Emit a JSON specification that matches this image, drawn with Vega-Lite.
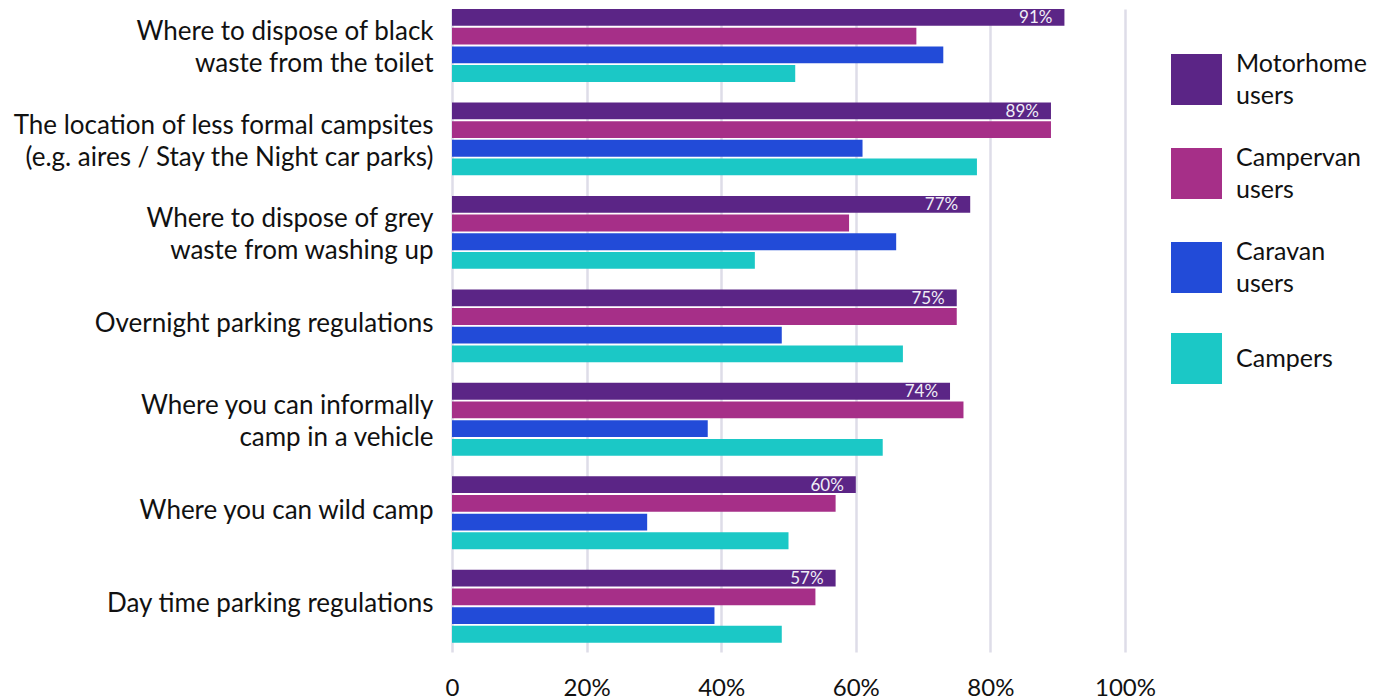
{
  "$schema": "https://vega.github.io/schema/vega-lite/v6.json",
  "width": 673,
  "height": 643,
  "autosize": "none",
  "padding": {"left": 452, "top": 9, "right": 266, "bottom": 47},
  "background": "white",
  "config": {
    "font": "Lato",
    "view": {"stroke": null}
  },
  "data": {
    "values": [
      {"q": "Where to dispose of black|waste from the toilet", "g": "Motorhome users", "v": 91},
      {"q": "Where to dispose of black|waste from the toilet", "g": "Campervan users", "v": 69},
      {"q": "Where to dispose of black|waste from the toilet", "g": "Caravan users", "v": 73},
      {"q": "Where to dispose of black|waste from the toilet", "g": "Campers", "v": 51},
      {"q": "The location of less formal campsites|(e.g. aires / Stay the Night car parks)", "g": "Motorhome users", "v": 89},
      {"q": "The location of less formal campsites|(e.g. aires / Stay the Night car parks)", "g": "Campervan users", "v": 89},
      {"q": "The location of less formal campsites|(e.g. aires / Stay the Night car parks)", "g": "Caravan users", "v": 61},
      {"q": "The location of less formal campsites|(e.g. aires / Stay the Night car parks)", "g": "Campers", "v": 78},
      {"q": "Where to dispose of grey|waste from washing up", "g": "Motorhome users", "v": 77},
      {"q": "Where to dispose of grey|waste from washing up", "g": "Campervan users", "v": 59},
      {"q": "Where to dispose of grey|waste from washing up", "g": "Caravan users", "v": 66},
      {"q": "Where to dispose of grey|waste from washing up", "g": "Campers", "v": 45},
      {"q": "Overnight parking regulations", "g": "Motorhome users", "v": 75},
      {"q": "Overnight parking regulations", "g": "Campervan users", "v": 75},
      {"q": "Overnight parking regulations", "g": "Caravan users", "v": 49},
      {"q": "Overnight parking regulations", "g": "Campers", "v": 67},
      {"q": "Where you can informally|camp in a vehicle", "g": "Motorhome users", "v": 74},
      {"q": "Where you can informally|camp in a vehicle", "g": "Campervan users", "v": 76},
      {"q": "Where you can informally|camp in a vehicle", "g": "Caravan users", "v": 38},
      {"q": "Where you can informally|camp in a vehicle", "g": "Campers", "v": 64},
      {"q": "Where you can wild camp", "g": "Motorhome users", "v": 60},
      {"q": "Where you can wild camp", "g": "Campervan users", "v": 57},
      {"q": "Where you can wild camp", "g": "Caravan users", "v": 29},
      {"q": "Where you can wild camp", "g": "Campers", "v": 50},
      {"q": "Day time parking regulations", "g": "Motorhome users", "v": 57},
      {"q": "Day time parking regulations", "g": "Campervan users", "v": 54},
      {"q": "Day time parking regulations", "g": "Caravan users", "v": 39},
      {"q": "Day time parking regulations", "g": "Campers", "v": 49}
    ]
  },
  "encoding": {
    "y": {
      "field": "q", "type": "nominal", "sort": null, "title": null,
      "scale": {"paddingInner": 0.22, "paddingOuter": 0.05, "align": 0},
      "axis": {
        "domain": false, "ticks": false, "labelPadding": 19,
        "labelFontSize": 26, "labelColor": "#111111", "labelLineHeight": 32,
        "labelLimit": 500,
        "labelExpr": "split(datum.label, '|')",
        "labelOffset": {"condition": {"test": "indexof(datum.value, '|') >= 0", "value": -13}, "value": -2}
      }
    },
    "yOffset": {
      "field": "g", "type": "nominal", "sort": ["Motorhome users", "Campervan users", "Caravan users", "Campers"],
      "scale": {"paddingInner": 0.1, "paddingOuter": 0}
    },
    "x": {
      "field": "v", "type": "quantitative", "title": null,
      "scale": {"domain": [0, 100], "nice": false},
      "axis": {
        "values": [0, 20, 40, 60, 80, 100],
        "domain": false, "ticks": false, "grid": true, "labelFlush": false,
        "gridColor": "#dedde8", "gridWidth": 2.5,
        "labelFontSize": 24, "labelColor": "#111111", "labelPadding": 24,
        "labelExpr": "datum.value == 0 ? '0' : datum.value + '%'"
      }
    }
  },
  "layer": [
    {
      "mark": {"type": "bar"},
      "encoding": {
        "color": {
          "field": "g", "type": "nominal", "title": null,
          "sort": ["Motorhome users", "Campervan users", "Caravan users", "Campers"],
          "scale": {"domain": ["Motorhome users", "Campervan users", "Caravan users", "Campers"], "range": ["#5b2586", "#a62f88", "#224bd8", "#1bc8c6"]},
          "legend": {
            "orient": "none", "legendX": 719, "legendY": 45,
            "padding": 0,
            "symbolType": "square", "symbolSize": 2600, "symbolStrokeWidth": 0, "symbolOpacity": 1,
            "labelFontSize": 25, "labelColor": "#111111",
            "labelOffset": 14, "rowPadding": 36,
            "labelExpr": "split(datum.label, ' ')",
            "encode": {"labels": {"update": {
              "lineHeight": {"value": 32},
              "dy": {"signal": "indexof(datum.value, ' ') >= 0 ? -16 : 0"}
            }}}
          }
        }
      }
    },
    {
      "transform": [
        {"filter": "datum.g == 'Motorhome users'"},
        {"calculate": "datum.v + '%'", "as": "lbl"}
      ],
      "mark": {"type": "text", "align": "right", "baseline": "middle", "dx": -12, "dy": 1, "fontSize": 17},
      "encoding": {
        "text": {"field": "lbl", "type": "nominal"},
        "color": {"value": "#f0eef6"}
      }
    }
  ]
}
